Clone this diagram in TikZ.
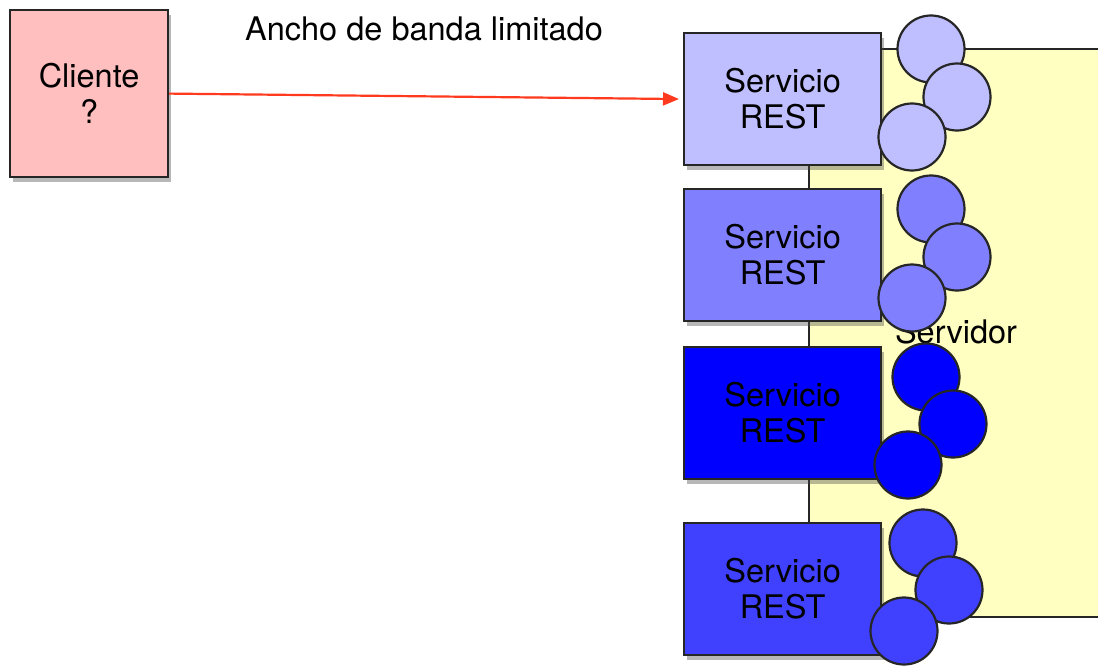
\documentclass[tikz,border=0pt]{standalone}
\usepackage{fontspec}
\setmainfont{TeX Gyre Heros}
\usetikzlibrary{arrows.meta,shadows}
\definecolor{clientfill}{HTML}{FFBFBF}
\definecolor{serverfill}{HTML}{FFFFC2}
\definecolor{svcA}{HTML}{BFBFFF}
\definecolor{svcB}{HTML}{8080FF}
\definecolor{svcC}{HTML}{0000FF}
\definecolor{svcD}{HTML}{4040FF}
\definecolor{arrowred}{HTML}{FF3A1E}
\tikzset{
  txt/.style={font=\fontsize{32.5}{36}\selectfont, align=center, text=black},
  boxshadow/.style={drop shadow={shadow xshift=3pt, shadow yshift=-5pt, opacity=0.4, fill=black!70}},
  clientbox/.style={draw=black!85, line width=2.2pt, fill=clientfill, boxshadow, minimum width=158pt, minimum height=167pt, inner sep=0pt, anchor=north west, txt},
  svcbox/.style={draw=black!85, line width=2.2pt, fill=#1, boxshadow, minimum width=197pt, minimum height=132pt, inner sep=0pt, anchor=north west, txt},
  ball/.style={circle, draw=black!85, line width=2.2pt, fill=#1, minimum size=67pt, inner sep=0pt},
  serverbox/.style={draw=black!85, line width=2.2pt, fill=serverfill, minimum width=300pt, minimum height=568pt, inner sep=0pt, anchor=north west},
  link/.style={draw=arrowred, line width=2.2pt, -{Triangle[length=16pt,width=13pt]}}
}
\begin{document}
\begin{tikzpicture}[x=1pt,y=-1pt]
\useasboundingbox (0,0) rectangle (1098,669);
\fill[white] (0,0) rectangle (1098,669);
% server
\node[serverbox] (srv) at (808,48) {};
\node[txt, anchor=base] (srvlabel) at (956,343) {Servidor};
% client
\node[clientbox] (cli) at (9,9) {Cliente\\?};
% services
\node[svcbox=svcA] (s1) at (683,32) {Servicio\\REST};
\node[svcbox=svcB] (s2) at (683,188) {Servicio\\REST};
\node[svcbox=svcC] (s3) at (683,346) {Servicio\\REST};
\node[svcbox=svcD] (s4) at (683,522) {Servicio\\REST};
% balls
\node[ball=svcA] (a1) at (931,49) {};
\node[ball=svcA] (a2) at (957,97) {};
\node[ball=svcA] (a3) at (912,137) {};
\node[ball=svcB] (b1) at (931,209) {};
\node[ball=svcB] (b2) at (957,257) {};
\node[ball=svcB] (b3) at (912,298) {};
\node[ball=svcC] (c1) at (926,377) {};
\node[ball=svcC] (c2) at (953,424) {};
\node[ball=svcC] (c3) at (908,465) {};
\node[ball=svcD] (d1) at (923,543) {};
\node[ball=svcD] (d2) at (949,590) {};
\node[ball=svcD] (d3) at (904,631) {};
% title
\node[txt, anchor=base] (title) at (424,41) {Ancho de banda limitado};
% arrow
\draw[link, shorten >=4pt] (cli.east) -- (s1.west);
\end{tikzpicture}
\end{document}
